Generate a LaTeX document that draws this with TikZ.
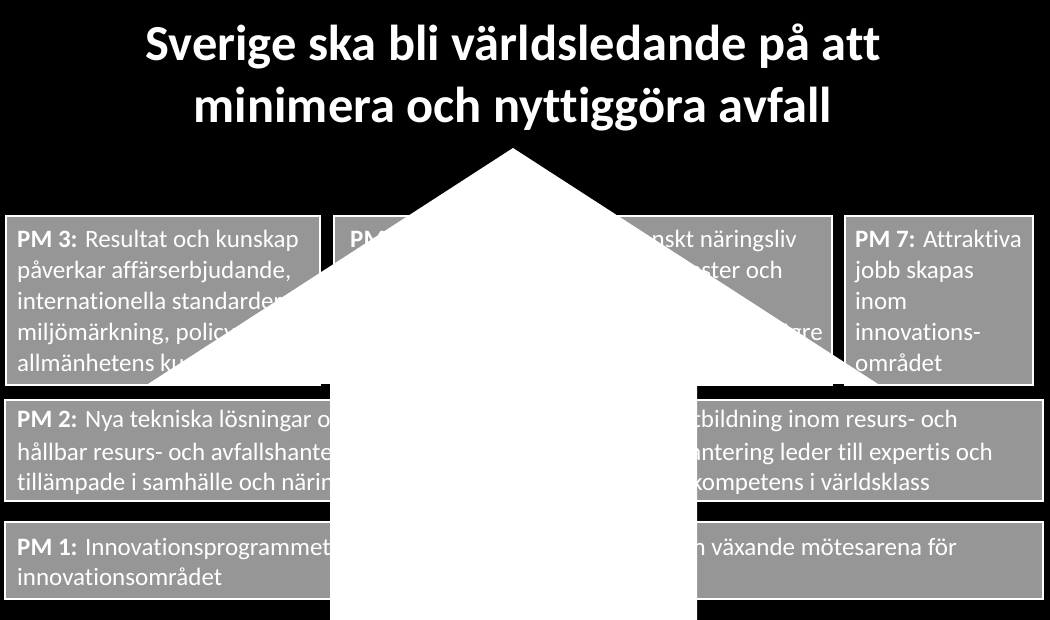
\documentclass[tikz,border=0pt]{standalone}
\usepackage{fontspec}
\setmainfont{Carlito}[Ligatures=NoCommon]
\definecolor{boxgray}{RGB}{150,150,150}
\begin{document}
\begin{tikzpicture}[x=1pt,y=-1pt,
  pmbox/.style={draw=white, line width=1.5pt, fill=boxgray},
  txt/.style={anchor=base west, inner sep=0pt, text=white, font=\fontsize{25}{30}\selectfont},
  rtxt/.style={anchor=base east, inner sep=0pt, text=white, font=\fontsize{25}{30}\selectfont},
  ttl/.style={anchor=base, inner sep=0pt, text=white, font=\fontsize{50.5}{60}\selectfont\bfseries},
  bigarrow/.style={fill=white, draw=none}]
\fill[black] (0,0) rectangle (1050,620);
\useasboundingbox (0,0) rectangle (1050,620);
% title
\node[ttl] (t1) at (513,61) {Sverige ska bli världsledande på att};
\node[ttl] (t2) at (513,123) {minimera och nyttiggöra avfall};
% boxes
\draw[pmbox] (6,216) rectangle (320,385);
\draw[pmbox] (334,216) rectangle (832,385);
\draw[pmbox] (845,216) rectangle (1033,385);
\draw[pmbox] (5,400) rectangle (1043,501);
\draw[pmbox] (5,522) rectangle (1043,599);
% PM3
\node[txt] (p3a) at (17,248) {\textbf{PM 3:} Resultat och kunskap};
\node[txt] (p3b) at (17,279) {påverkar affärserbjudande,};
\node[txt] (p3c) at (17,310) {internationella standarder,};
\node[txt] (p3d) at (17,341) {miljömärkning, policy och};
\node[txt] (p3e) at (17,372) {allmänhetens kunskap};
% PM 4-6
\node[txt] (p4a) at (350,248) {\textbf{PM}};
\node[rtxt] (p4b) at (797,248) {svenskt näringsliv};
\node[rtxt] (p4c) at (783,279) {tjänster och};
\node[rtxt] (p4d) at (823,341) {högre};
% PM7
\node[txt] (p7a) at (855,248) {\textbf{PM 7:} Attraktiva};
\node[txt] (p7b) at (855,279) {jobb skapas};
\node[txt] (p7c) at (855,310) {inom};
\node[txt] (p7d) at (855,341) {innovations-};
\node[txt] (p7e) at (855,372) {området};
% PM2
\node[txt] (p2a) at (17,428) {\textbf{PM 2:} Nya tekniska lösningar och};
\node[txt] (p2b) at (17,460) {hållbar resurs- och avfallshantering};
\node[txt] (p2c) at (17,490) {tillämpade i samhälle och näringsliv};
\node[rtxt] (p8a) at (958,428) {utbildning inom resurs- och};
\node[rtxt] (p8b) at (993,460) {avfallshantering leder till expertis och};
\node[rtxt] (p8c) at (930,490) {kompetens i världsklass};
% PM1
\node[txt] (p1a) at (17,555) {\textbf{PM 1:} Innovationsprogrammet};
\node[txt] (p1b) at (17,585) {innovationsområdet};
\node[rtxt] (p1c) at (957,555) {en växande mötesarena för};
% arrow
\fill[bigarrow] (513,148) -- (878,384) -- (697,384) -- (697,620) -- (330,620) -- (330,384) -- (148,384) -- cycle;
\end{tikzpicture}
\end{document}
